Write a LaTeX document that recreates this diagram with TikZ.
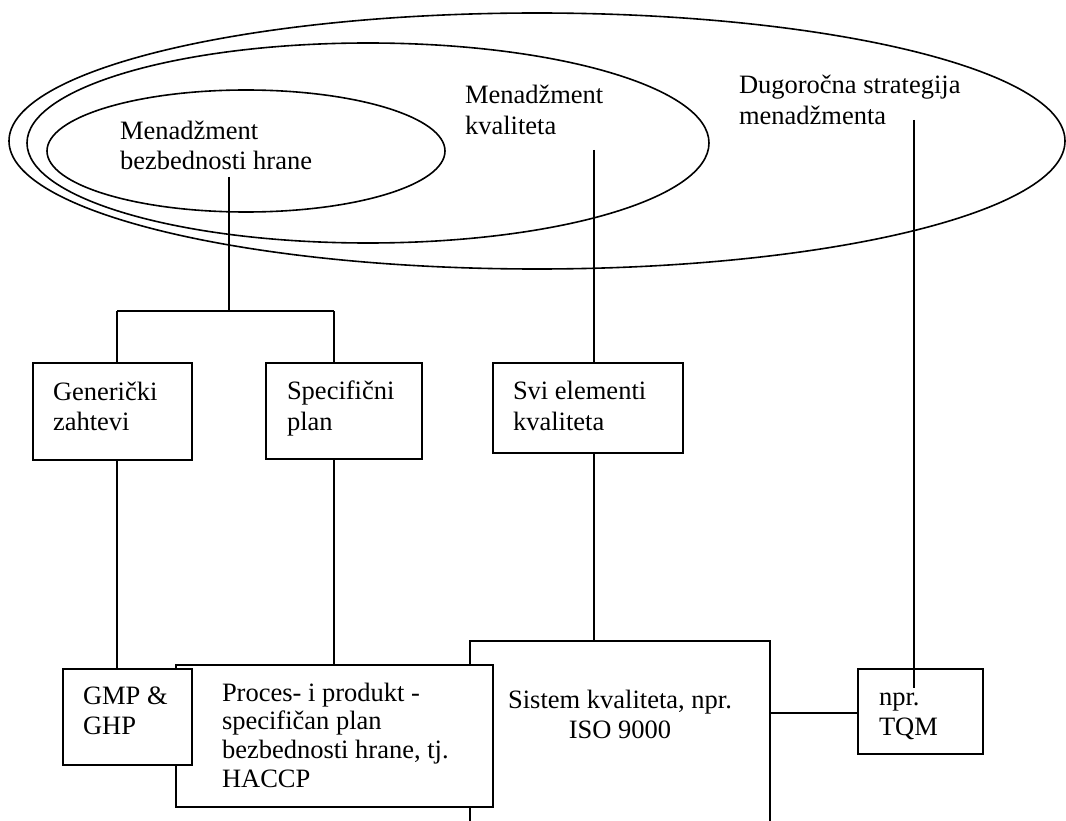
\documentclass[tikz,border=0pt]{standalone}
\usepackage{fontspec}
\setmainfont{Liberation Serif}
\begin{document}
\begin{tikzpicture}[x=1pt,y=-1pt, line width=1.6pt,
  box/.style={draw, rectangle, inner sep=0pt, outer sep=0pt, anchor=north west},
  wbox/.style={box, fill=white},
  txt/.style={anchor=base west, inner sep=0pt, outer sep=0pt, font=\fontsize{26.5}{30.5}\selectfont},
  ctxt/.style={txt, anchor=base}]
\useasboundingbox (0,0) rectangle (1066,821);
\clip (0,0) rectangle (1066,821);
% ellipses
\draw (537,141) ellipse [x radius=528pt, y radius=128pt];
\draw (368,143) ellipse [x radius=341pt, y radius=100pt];
\draw (246,151) ellipse [x radius=199pt, y radius=61pt];
% ellipse labels
\node[txt] (tbz) at (120,139.5) {\vtop{\hbox{Menadžment}\hbox{bezbednosti hrane}}};
\node[txt] (tmk) at (465,104) {\vtop{\hbox{Menadžment}\hbox{kvaliteta}}};
\node[txt] (tds) at (739,94) {\vtop{\hbox{Dugoročna strategija}\hbox{menadžmenta}}};
% middle boxes
\node[box, minimum width=159pt, minimum height=97pt] (gen) at (33,363) {};
\node[box, minimum width=156pt, minimum height=96pt] (spec) at (266,363) {};
\node[box, minimum width=190pt, minimum height=90pt] (svi) at (493,363) {};
\node[txt] (tgen) at (53,400) {\vtop{\hbox{Generički}\hbox{zahtevi}}};
\node[txt] (tspec) at (287,399.5) {\vtop{\hbox{Specifični}\hbox{plan}}};
\node[txt] (tsvi) at (513,399.5) {\vtop{\hbox{Svi elementi}\hbox{kvaliteta}}};
% bottom boxes
\node[wbox, minimum width=300pt, minimum height=215pt] (sis) at (470,641) {};
\node[wbox, minimum width=317pt, minimum height=142pt] (proc) at (176,665) {};
\node[wbox, minimum width=129pt, minimum height=96pt] (gmp) at (63,669) {};
\node[box, minimum width=125pt, minimum height=85pt] (tqm) at (858,669) {};
\node[txt] (tgmp) at (83,704) {\vtop{\hbox{GMP \&}\hbox{GHP}}};
\node[txt] (tproc) at (222,701) {\vtop{\baselineskip=28.7pt\hbox{Proces- i produkt -}\hbox{specifičan plan}\hbox{bezbednosti hrane, tj.}\hbox{HACCP}}};
\node[ctxt] (tsis) at (620,708) {\vtop{\halign{\hfil#\hfil\cr Sistem kvaliteta, npr.\cr ISO 9000\cr}}};
\node[txt] (ttqm) at (879,705) {\vtop{\hbox{npr.}\hbox{TQM}}};
% connectors
\coordinate (bz) at (229,177);
\coordinate (jn) at (229,311);
\coordinate (jl) at (117,311);
\coordinate (jr) at (334,311);
\coordinate (mk) at (594,150);
\coordinate (ds) at (914,120);
\coordinate (de) at (914,688);
\coordinate (ct) at (0,713);
\draw (bz) -- (jn);
\draw (jl) -- (jr);
\draw (jl) -- (jl |- gen.north);
\draw (jr) -- (jr |- spec.north);
\draw (jl |- gen.south) -- (jl |- gmp.north);
\draw (jr |- spec.south) -- (jr |- proc.north);
\draw (mk) -- (mk |- svi.north);
\draw (mk |- svi.south) -- (mk |- sis.north);
\draw (ds) -- (de);
\draw (sis.east |- ct) -- (tqm.west |- ct);
\end{tikzpicture}
\end{document}
